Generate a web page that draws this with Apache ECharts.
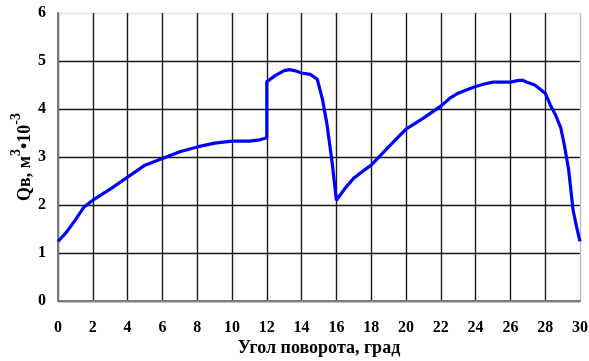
<!DOCTYPE html>
<html>
<head>
<meta charset="utf-8">
<script src="https://cdn.jsdelivr.net/npm/echarts@6/dist/echarts.min.js"></script>
<style>
html,body{margin:0;padding:0;background:#fff;}
#chart{width:589px;height:361px;}
</style>
</head>
<body>
<div id="chart"></div>
<script>
const angles = [0, 0.5, 1, 1.5, 2, 3, 4, 5, 6, 7, 8, 9, 10, 11, 11.5, 12, 12, 12.5, 13, 13.3, 13.6, 14, 14.5, 14.9, 15.2, 15.45, 15.75, 16, 16.5, 17, 17.5, 18, 19, 20, 21, 22, 22.5, 23, 23.5, 24, 24.5, 25, 26, 26.4, 26.7, 27, 27.4, 28, 28.3, 28.6, 28.9, 29.1, 29.35, 29.6, 29.8, 30];
const flow = [1.24, 1.44, 1.69, 1.96, 2.10, 2.33, 2.58, 2.83, 2.97, 3.11, 3.21, 3.29, 3.33, 3.33, 3.35, 3.40, 4.57, 4.70, 4.80, 4.82, 4.80, 4.75, 4.72, 4.62, 4.20, 3.70, 2.90, 2.10, 2.35, 2.56, 2.70, 2.83, 3.21, 3.58, 3.81, 4.06, 4.22, 4.33, 4.40, 4.47, 4.52, 4.56, 4.56, 4.59, 4.60, 4.55, 4.50, 4.33, 4.08, 3.87, 3.60, 3.25, 2.73, 1.90, 1.55, 1.24];
const xTitle = 'Угол поворота, град';
const yTitleMain = 'Qв, м';
const yTitleExp1 = '3';
const yTitleMid = '•10';
const yTitleExp2 = '-3';

const serif = '"Liberation Serif", "Times New Roman", serif';
const chart = echarts.init(document.getElementById('chart'));
const xColors = [];
for (let i = 0; i < 16; i++) xColors.push(i === 15 ? '#bdbdbd' : '#1a1a1a');
const yColors = [];
for (let i = 0; i < 7; i++) yColors.push(i === 6 ? '#e4e4e4' : '#1a1a1a');

chart.setOption({
  animation: false,
  grid: {left: 58, right: 9, top: 13, bottom: 60, containLabel: false, outerBoundsMode: 'none'},
  xAxis: {
    type: 'value', min: 0, max: 30, interval: 2,
    name: xTitle, nameLocation: 'middle', nameGap: 38, nameMoveOverlap: false,
    nameTextStyle: {fontFamily: serif, fontWeight: 'bold', fontSize: 18, color: '#000'},
    axisLine: {show: true, onZero: false, lineStyle: {color: '#7a7a7a', width: 2}},
    axisTick: {show: false},
    axisLabel: {fontFamily: serif, fontWeight: 'bold', fontSize: 16, color: '#000', margin: 19},
    splitLine: {show: true, lineStyle: {color: xColors, width: 1.4}}
  },
  yAxis: {
    type: 'value', min: 0, max: 6, interval: 1,
    name: '{b|' + yTitleMain + '}{s|' + yTitleExp1 + '}{b|' + yTitleMid + '}{s|' + yTitleExp2 + '}',
    nameLocation: 'middle', nameRotate: 90, nameGap: 17, nameMoveOverlap: false,
    nameTextStyle: {
      rich: {
        b: {fontFamily: serif, fontWeight: 'bold', fontSize: 18, color: '#000', lineHeight: 32, verticalAlign: 'middle'},
        s: {fontFamily: serif, fontWeight: 'bold', fontSize: 14, color: '#000', lineHeight: 32, verticalAlign: 'top'}
      }
    },
    axisLine: {show: true, onZero: false, lineStyle: {color: '#7a7a7a', width: 2}},
    axisTick: {show: false},
    axisLabel: {fontFamily: serif, fontWeight: 'bold', fontSize: 16, color: '#000', margin: 12},
    splitLine: {show: true, lineStyle: {color: yColors, width: 1.4}}
  },
  series: [{
    type: 'line',
    data: angles.map((a, i) => [a, flow[i]]),
    showSymbol: false,
    smooth: false,
    lineStyle: {color: '#0000ff', width: 3.2},
    itemStyle: {color: '#0000ff'}
  }]
});
</script>
</body>
</html>
